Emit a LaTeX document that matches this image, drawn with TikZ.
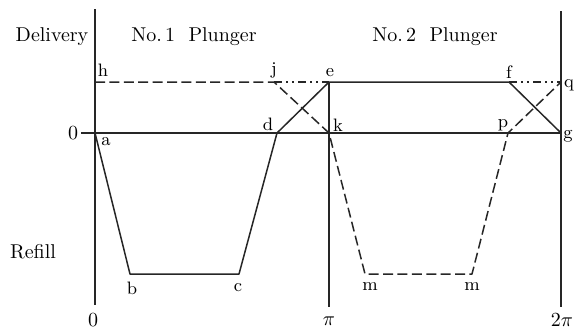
\documentclass[tikz,border=0pt]{standalone}
\usepackage{amsmath}
\usepackage{tikz}
\usetikzlibrary{calc}
\tikzset{
  every node/.style={font=\normalsize, inner sep=1pt},
  axisline/.style={line width=0.75pt, draw=black!85},
  plungerA/.style={line width=0.75pt, draw=black!85, line join=round},
  plungerB/.style={line width=0.75pt, draw=black!85, dash pattern=on 5pt off 2.2pt, line join=round},
  sumline/.style={line width=0.75pt, draw=black!85, dash pattern=on 4pt off 2pt on 1pt off 2pt on 1pt off 2pt},
  ptlabel/.style={font=\small},
  headline/.style={font=\normalsize},
}

\begin{document}
\begin{tikzpicture}[x=0.5pt,y=-0.5pt]
  \useasboundingbox (0,0) rectangle (577,328);

  % curve points
  \coordinate (a) at (95,133);
  \coordinate (b) at (130,274);
  \coordinate (c) at (239,274);
  \coordinate (d) at (277,133);
  \coordinate (e) at (329,82);
  \coordinate (f) at (509,82);
  \coordinate (g) at (561,133);
  \coordinate (h) at (95,82);
  \coordinate (j) at (274,82);
  \coordinate (k) at (329,133);
  \coordinate (m1) at (365,274);
  \coordinate (m2) at (472,274);
  \coordinate (p) at (508,133);
  \coordinate (q) at (561,82);

  % axes
  \coordinate (ytop) at (95,9);
  \coordinate (ybot) at (95,305);
  \coordinate (rtop) at (561,11);
  \coordinate (rbot) at (561,307);
  \coordinate (mbot) at (329,307);
  \coordinate (ztick) at (81,133);
  \draw[axisline] (ytop) -- (ybot);
  \draw[axisline] (rtop) -- (rbot);
  \draw[axisline] (e) -- (mbot);
  \draw[axisline] (ztick) -- (g);

  % No.1 plunger
  \draw[plungerA] (a) -- (b) -- (c) -- (d) -- (e) -- (f) -- (g);
  % No.2 plunger
  \draw[plungerB] (h) -- (j) -- (k) -- (m1) -- (m2) -- (p) -- (q);
  \draw[sumline] (j) -- (e);
  \draw[sumline] (f) -- (q);

  % titles
  \node[headline] (delivery) at (52,37) {Delivery};
  \node[headline] (refill) at (33,252) {Refill};
  \node[headline] (plungerone) at (194,37) {No.\,1\ \ Plunger};
  \node[headline] (plungertwo) at (435,37) {No.\,2\ \ Plunger};

  % point labels
  \node[ptlabel] (la) at (106,142) {a};
  \node[ptlabel] (lb) at (132,288) {b};
  \node[ptlabel] (lc) at (238,288) {c};
  \node[ptlabel] (ld) at (268,124) {d};
  \node[ptlabel] (le) at (330,73) {e};
  \node[ptlabel] (lf) at (509,72) {f};
  \node[ptlabel] (lg) at (568,136) {g};
  \node[ptlabel] (lh) at (103,70) {h};
  \node[ptlabel] (lj) at (274,70) {j};
  \node[ptlabel] (lk) at (338,125) {k};
  \node[ptlabel] (lm1) at (370,287) {m};
  \node[ptlabel] (lm2) at (472,287) {m};
  \node[ptlabel] (lp) at (503,125) {p};
  \node[ptlabel] (lq) at (569,85) {q};

  % scale values
  \node[headline] (zeroleft) at (73,133) {0};
  \node[headline] (zero) at (93,320) {0};
  \node[headline] (pi) at (329,321) {$\pi$};
  \node[headline] (twopi) at (562,320) {$2\pi$};
\end{tikzpicture}
\end{document}
